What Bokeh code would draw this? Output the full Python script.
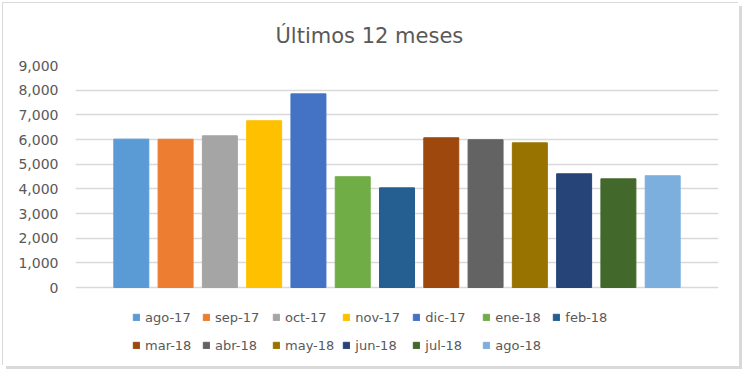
from bokeh.plotting import figure
from bokeh.models import (ColumnDataSource, FactorRange, Range1d, Legend, LegendItem,
                          NumeralTickFormatter, FixedTicker)
from bokeh.embed import file_html
from bokeh.resources import INLINE

months = ["ago-17", "sep-17", "oct-17", "nov-17", "dic-17", "ene-18", "feb-18",
          "mar-18", "abr-18", "may-18", "jun-18", "jul-18", "ago-18"]
values = [6015, 6010, 6150, 6760, 7850, 4490, 4040, 6070, 5990, 5865, 4610, 4405, 4530]
colors = ["#5B9BD5", "#ED7D31", "#A5A5A5", "#FFC000", "#4472C4", "#70AD47", "#255E91",
          "#9E480E", "#636363", "#997300", "#264478", "#43682B", "#7CAFDD"]
y_ticks = [0, 1000, 2000, 3000, 4000, 5000, 6000, 7000, 8000, 9000]
title_text = "Últimos 12 meses"

FONT = "DejaVu Sans"
GREY = "#595959"

# layout (pixels)
W, H = 736, 363
TOP, LEFT, RIGHT = 62, 72, 21
GRID_PX = 222            # height of the 0..9000 band
FRAME_PX = H - TOP       # frame extends down to hold the legend
y_max = y_ticks[-1]
y_min = -y_max * (FRAME_PX - GRID_PX) / GRID_PX

source = ColumnDataSource(dict(month=months, value=values, color=colors))

p = figure(width=W, height=H, output_backend="svg", toolbar_location=None,
           x_range=FactorRange(factors=months, range_padding=0.117),
           y_range=Range1d(y_min, y_max), x_axis_location=None,
           min_border_left=LEFT, min_border_right=RIGHT, min_border_top=TOP,
           min_border_bottom=0, title=title_text, margin=(3, 0, 0, 3))

r = p.vbar(x="month", top="value", width=0.79, color="color", source=source)

p.title.text_font = FONT
p.title.text_font_size = "21px"
p.title.text_font_style = "normal"
p.title.text_color = GREY
p.title.align = "left"
p.title.offset = 200
p.title.standoff = 36

p.outline_line_color = None
p.xgrid.grid_line_color = None
p.ygrid.grid_line_color = "#d9d9d9"
p.ygrid.grid_line_width = 1.3

ax = p.yaxis[0]
ax.ticker = FixedTicker(ticks=y_ticks)
ax.formatter = NumeralTickFormatter(format="0,0")
ax.axis_line_color = None
ax.major_tick_line_color = None
ax.minor_tick_line_color = None
ax.major_tick_out = 0
ax.major_tick_in = 0
ax.major_label_text_font = FONT
ax.major_label_text_font_size = "14px"
ax.major_label_text_color = GREY
ax.major_label_standoff = 17

items = [LegendItem(label=m, renderers=[r], index=i) for i, m in enumerate(months)]
legend = Legend(items=items, orientation="horizontal", nrows=2,
                location=(57, 11), margin=0, padding=10, spacing=8,
                glyph_width=8, glyph_height=8, label_standoff=5,
                label_width=49, label_height=20,
                label_text_font=FONT, label_text_font_size="13px",
                label_text_color=GREY, border_line_color=None,
                background_fill_alpha=0)
p.add_layout(legend, "center")

p.styles = {"box-shadow": "-1px -1px 0 0 #d9d9d9, 3px 3px 0 0 #d9d9d9"}

open("out.html", "w").write(file_html(p, INLINE))
